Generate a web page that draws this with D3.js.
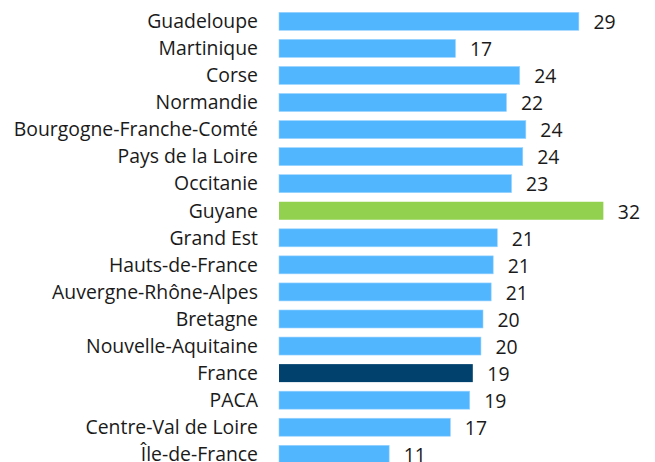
<!DOCTYPE html>
<html>
<head>
<meta charset="utf-8">
<script src="https://cdn.jsdelivr.net/npm/d3@7"></script>
<style>
	body { margin: 0; background: #fff; }
	text { font-family: "Open Sans", sans-serif; fill: #1a1a1a; }
</style>
</head>
<body>
<svg width="655" height="462"></svg>
<script>
const regions = ["Guadeloupe", "Martinique", "Corse", "Normandie", "Bourgogne-Franche-Comté",
	"Pays de la Loire", "Occitanie", "Guyane", "Grand Est", "Hauts-de-France",
	"Auvergne-Rhône-Alpes", "Bretagne", "Nouvelle-Aquitaine", "France", "PACA",
	"Centre-Val de Loire", "Île-de-France"]
const values = [29.4, 17.3, 23.6, 22.3, 24.2, 23.9, 22.8, 31.8, 21.4, 21.0,
	20.8, 20.0, 19.8, 19.0, 18.7, 16.8, 10.8]
const highlight = {"Guyane": "#92d050", "France": "#00416d"}

const svg = d3.select("svg")
const x0 = 279

const x = d3.scaleLinear()
	.domain([0, 1])
	.range([x0, x0 + 10.2])

const y = d3.scaleBand()
	.domain(regions)
	.range([7.8, 7.8 + 17 * 27.06])
	.paddingInner(0.335)
	.paddingOuter(0.1675)

const row = svg.selectAll("g.row")
	.data(regions)
	.join("g")
	.attr("class", "row")

row.append("rect")
	.attr("x", x(0))
	.attr("y", d => y(d))
	.attr("width", (d, i) => x(values[i]) - x(0))
	.attr("height", y.bandwidth())
	.attr("fill", d => highlight[d] || "#52b6ff")
	.attr("stroke", d => highlight[d] ? "none" : "#9bd4ff")
	.attr("stroke-width", 0.6)

row.append("text")
	.attr("x", 258)
	.attr("y", d => y(d) + y.bandwidth() / 2)
	.attr("dy", "0.35em")
	.attr("text-anchor", "end")
	.style("font-size", "19.4px")
	.text(d => d)

row.append("text")
	.attr("x", (d, i) => x(values[i]) + 14.5)
	.attr("y", d => y(d) + y.bandwidth() / 2 + 1)
	.attr("dy", "0.35em")
	.style("font-size", "19.4px")
	.text((d, i) => d3.format(".0f")(values[i]))
</script>
</body>
</html>
